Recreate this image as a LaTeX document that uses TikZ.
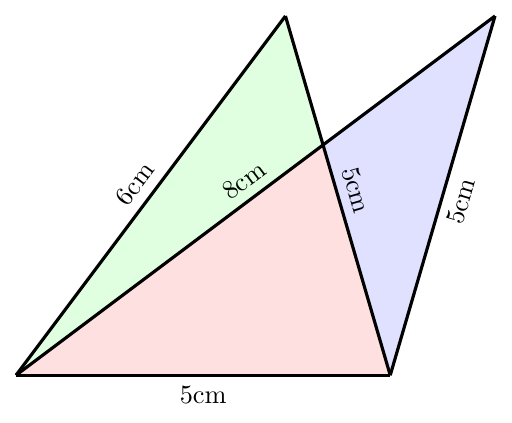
\documentclass[tikz,border=0pt]{standalone}
\usepackage{amsmath}
\usetikzlibrary{arrows.meta,calc}
\definecolor{PaleGreen}{HTML}{E0FFE0}
\definecolor{PaleRed}{HTML}{FFE0E0}
\definecolor{PaleBlue}{HTML}{E0E0FF}

\begin{document}
\begin{tikzpicture}[x=1cm,y=1cm,>=Latex,
    side/.style={black,very thick,line join=round},
    len/.style={sloped,font=\normalsize}]
    \useasboundingbox (-0.214,-0.628) rectangle (6.627,5.014);

    \coordinate (A) at (0,0);
    \coordinate (B) at (5,0);
    \coordinate (C) at (3.6,4.8);
    \coordinate (D) at (6.4,4.8);
    \coordinate (E) at (intersection of A--D and C--B);

    % the three regions
    \fill[PaleGreen] (A) -- (C) -- (E) -- cycle;
    \fill[PaleRed] (A) -- (E) -- (B) -- cycle;
    \fill[PaleBlue] (E) -- (D) -- (B) -- cycle;

    \draw[side] (A) -- node[len,below] {5cm} (B);
    \draw[side] (A) -- node[len,above] {6cm} (C);
    \draw[side] (C) -- node[len,above] {5cm} (B);
    \draw[side] (A) -- node[len,above] {8cm} (D);
    \draw[side] (B) -- node[len,below] {5cm} (D);
  \end{tikzpicture}
\end{document}
